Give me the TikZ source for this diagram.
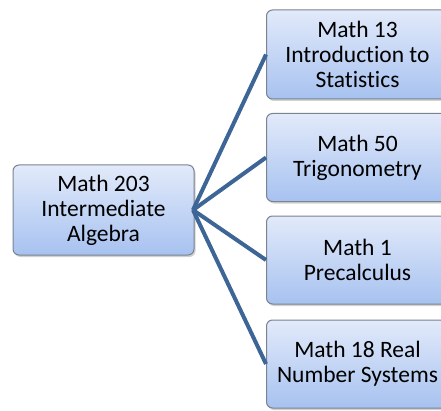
\documentclass[tikz,border=0pt]{standalone}
\usepackage{fontspec}
\setmainfont{Carlito}[Ligatures=NoCommon]
\usetikzlibrary{shadows}
\definecolor{linkblue}{HTML}{3D6697}
\definecolor{boxtop}{HTML}{E2EAFA}
\definecolor{boxbot}{HTML}{A7C2F0}
\definecolor{boxline}{HTML}{7A8391}
\tikzset{
  mbox/.style={draw=boxline, line width=1pt, rounded corners=6pt,
    top color=boxtop, bottom color=boxbot, align=center,
    font=\fontsize{23.5}{25}\selectfont, inner sep=0pt,
    drop shadow={shadow xshift=1.5pt, shadow yshift=-2pt, opacity=0.3, fill=black!60}},
  link/.style={draw=linkblue, line width=4pt}
}
\begin{document}
\begin{tikzpicture}[x=1pt,y=1pt]
\useasboundingbox (0,0) rectangle (441,410);
\begin{scope}
\clip (0,0) rectangle (441,410);
\node[mbox, minimum width=181pt, minimum height=90pt] (root) at (103.5,200) {Math 203\\Intermediate\\Algebra};
\coordinate (hub) at (193,200);
\node[mbox, minimum width=182pt, minimum height=89pt, anchor=west] (a) at (266,355.5) {Math 13\\Introduction to\\Statistics};
\node[mbox, minimum width=182pt, minimum height=88pt, anchor=west] (b) at (266,252.5) {Math 50\\Trigonometry};
\node[mbox, minimum width=182pt, minimum height=88pt, anchor=west] (c) at (266,150) {Math 1\\Precalculus};
\node[mbox, minimum width=182pt, minimum height=88pt, anchor=west] (d) at (266,46) {Math 18 Real\\Number Systems};
\end{scope}
\draw[link] (hub) -- (a.west);
\draw[link] (hub) -- (b.west);
\draw[link] (hub) -- (c.west);
\draw[link] (hub) -- (d.west);
\end{tikzpicture}
\end{document}
